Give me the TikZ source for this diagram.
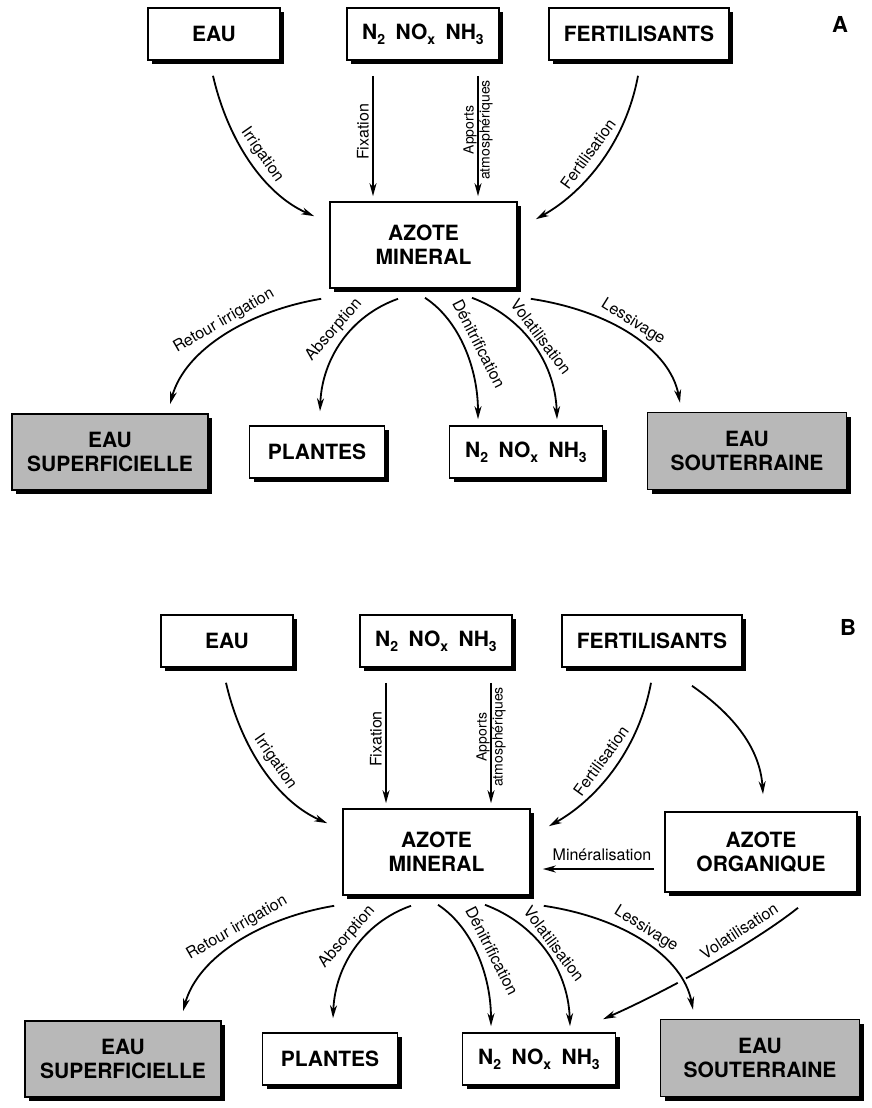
\documentclass[tikz,border=0pt]{standalone}
\usepackage{fontspec}
\setmainfont{TeX Gyre Heros}
\usetikzlibrary{shadows,arrows.meta,calc,backgrounds}
\newcommand\mysub[1]{\raisebox{-0.45ex}{\fontsize{14}{14}\selectfont #1}}
\newcommand\nox{N\mysub{2}\hspace{0.5em}NO\mysub{x}\hspace{0.5em}NH\mysub{3}}
\tikzset{
 box/.style={draw, line width=1.6pt, fill=white, font=\fontsize{21}{24}\selectfont\bfseries, align=center, inner sep=0pt,
   drop shadow={shadow xshift=4pt, shadow yshift=-4pt, fill=black, opacity=1, draw=none}},
 grey/.style={box, fill=black!28},
 arr/.style={line width=1.8pt, -{Stealth[length=13pt,width=7pt,inset=4pt]}},
 lbl/.style={font=\fontsize{16}{18}\selectfont, inner sep=0pt},
 halo/.style={preaction={draw=white, line width=9pt, arrows=-}},
 tag/.style={font=\fontsize{22}{24}\selectfont\bfseries, inner sep=0pt},
}
\newcommand\panel[1]{%
 \node[box, minimum width=132pt, minimum height=52pt] (eau#1) at (214,34) {EAU};
 \node[box, minimum width=152pt, minimum height=52pt] (nox#1) at (423,34) {\nox};
 \node[box, minimum width=180pt, minimum height=52pt] (fert#1) at (639,34) {FERTILISANTS};
 \node[box, minimum width=187pt, minimum height=86pt] (azm#1) at (423.5,245) {AZOTE\\MINERAL};
 \node[grey, minimum width=196pt, minimum height=76pt] (sup#1) at (110,452) {EAU\\SUPERFICIELLE};
 \node[box, minimum width=135pt, minimum height=52pt] (pla#1) at (317,452) {PLANTES};
 \node[box, minimum width=153pt, minimum height=52pt] (gas#1) at (526,452) {\nox};
 \node[grey, minimum width=199pt, minimum height=77pt] (sou#1) at (747,451) {EAU\\SOUTERRAINE};
 \draw[arr] ($(eau#1.south)+(-1,15)$) .. controls +(15,65) and +(-50,-22) .. ($(azm#1.north west)+(-15,15)$);
 \draw[arr] ($(nox#1.south)+(-50,15)$) -- ($(azm#1.north)+(-50.5,-5)$);
 \draw[arr] ($(nox#1.south)+(55,15)$) -- ($(azm#1.north)+(54.5,-5)$);
 \draw[arr] ($(fert#1.south)+(-1,15)$) .. controls +(-13,70) and +(45,-25) .. ($(azm#1.north east)+(18,18)$);
 \draw[arr] ($(azm#1.south west)+(-8,10)$) .. controls +(-72,12) and +(15,-55) .. ($(sup#1.north)+(60,-9)$);
 \draw[arr] ($(azm#1.south)+(-25.5,10)$) .. controls +(-48,17) and +(2,-52) .. ($(pla#1.north)+(3,-14)$);
 \draw[arr] ($(azm#1.south)+(1.5,9)$) .. controls +(35,23) and +(0,-50) .. ($(gas#1.north)+(-48,-6)$);
 \draw[arr] ($(azm#1.south)+(48.5,9)$) .. controls +(48,18) and +(-2,-60) .. ($(gas#1.north)+(31,-6)$);
 \draw[arr, halo] ($(azm#1.south east)+(13,10)$) .. controls +(80,12) and +(-10,-53) .. ($(sou#1.north)+(-67,-9)$);
 \node[lbl, rotate=-55] (li#1) at (262,155) {Irrigation};
 \node[lbl, rotate=90] (lf#1) at (363,132) {Fixation};
 \node[lbl, rotate=90, font=\fontsize{14}{16}\selectfont, align=center] (la#1) at (478,130) {Apports\\atmosphériques};
 \node[lbl, rotate=54] (lfe#1) at (588,154) {Fertilisation};
 \node[lbl, rotate=30] (lr#1) at (224,321) {Retour irrigation};
 \node[lbl, rotate=49] (lab#1) at (334,330) {Absorption};
 \node[lbl, rotate=-63] (ld#1) at (479,344) {Dénitrification};
 \node[lbl, rotate=-53] (lv#1) at (541,337) {Volatilisation};
 \node[lbl, rotate=-32] (ll#1) at (633,322) {Lessivage};
}
\begin{document}
\begin{tikzpicture}[x=1pt,y=-1pt]
\useasboundingbox (0,0) rectangle (872,1108);
\panel{A}
\node[tag] (tagA) at (840,24) {A};
\begin{scope}[shift={(13,607)}]
 \panel{B}
 \node[box, minimum width=192pt, minimum height=80pt] (org) at (748,245) {AZOTE\\ORGANIQUE};
 \draw[arr] ($(fertB.south)+(40,18)$) .. controls +(43,30) and +(-3,-45) .. ($(org.north)+(2,-17)$);
 \draw[arr] ($(org.west)+(-10,17)$) -- ($(azmB.east)+(12,17)$);
 \node[lbl] (lm) at (589,248) {Minéralisation};
 \begin{pgfonlayer}{background}
  \draw[arr] ($(org.south)+(37,15)$) .. controls +(-48,38) and +(57,-25) .. ($(gasB.north)+(64,-13)$);
 \end{pgfonlayer}
 \node[lbl, rotate=33] (lvo) at (726,324) {Volatilisation};
\end{scope}
\node[tag] (tagB) at (848,627) {B};
\end{tikzpicture}
\end{document}
